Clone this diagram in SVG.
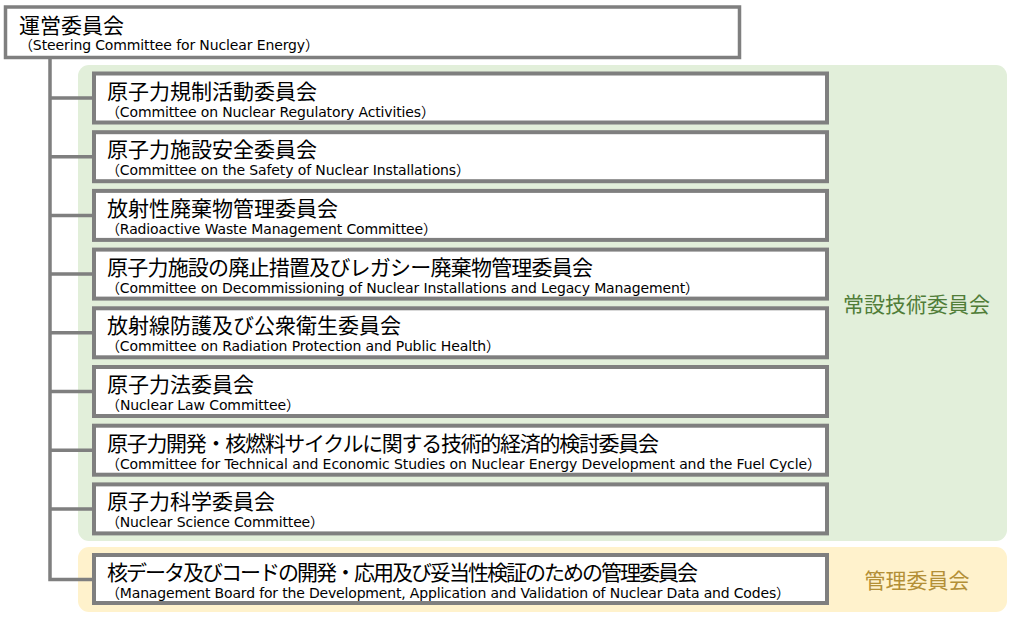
<svg xmlns="http://www.w3.org/2000/svg" width="1014" height="619" viewBox="0 0 1014 619">
<style>
.box{fill:#ffffff;stroke:#7f7f7f;stroke-width:4}
.top{fill:#ffffff;stroke:#7f7f7f;stroke-width:3.5}
.conn{fill:none;stroke:#7f7f7f;stroke-width:3.5}
.jp{font-family:"Noto Sans CJK JP","Noto Sans",sans-serif;font-size:21px;fill:#000000}
.en{font-family:"DejaVu Sans","Noto Sans CJK JP",sans-serif;font-size:14px;fill:#000000}
.lbl{font-family:"Noto Sans CJK JP",sans-serif;font-size:21px;text-anchor:middle}
</style>
<rect width="1014" height="619" fill="#ffffff"/>
<g id="group-standing">
<rect x="78" y="65" width="929" height="476" rx="11" fill="#e2efda"/>
<text class="lbl" x="916.5" y="312" fill="#507d38">常設技術委員会</text>
</g>
<g id="group-management">
<rect x="78" y="547" width="929" height="65" rx="11" fill="#fff2cc"/>
<text class="lbl" x="917" y="587.5" fill="#b38f36">管理委員会</text>
</g>
<g id="connectors">
<path class="conn" d="M50 57V579.5H94"/>
<path class="conn" d="M50 98H94M50 156.7H94M50 215.4H94M50 274.1H94M50 332.8H94M50 391.5H94M50 450.2H94M50 508.9H94"/>
</g>
<g id="steering">
<rect class="top" x="5.5" y="7" width="734" height="50.5"/>
<text class="jp" x="19" y="33">運営委員会</text>
<text class="en" x="19" y="50" textLength="300" lengthAdjust="spacing">（Steering Committee for Nuclear Energy）</text>
</g>
<g id="node1">
<rect class="box" x="94" y="73.5" width="733" height="49"/>
<text class="jp" x="107" y="98.5">原子力規制活動委員会</text>
<text class="en" x="106" y="116.5" textLength="329" lengthAdjust="spacing">（Committee on Nuclear Regulatory Activities）</text>
</g>
<g id="node2">
<rect class="box" x="94" y="132.2" width="733" height="49"/>
<text class="jp" x="107" y="157.2">原子力施設安全委員会</text>
<text class="en" x="106" y="175.2" textLength="364" lengthAdjust="spacing">（Committee on the Safety of Nuclear Installations）</text>
</g>
<g id="node3">
<rect class="box" x="94" y="190.9" width="733" height="49"/>
<text class="jp" x="107" y="215.9">放射性廃棄物管理委員会</text>
<text class="en" x="106" y="233.9" textLength="331" lengthAdjust="spacing">（Radioactive Waste Management Committee）</text>
</g>
<g id="node4">
<rect class="box" x="94" y="249.6" width="733" height="49"/>
<text class="jp" x="107" y="274.6" textLength="486" lengthAdjust="spacing">原子力施設の廃止措置及びレガシー廃棄物管理委員会</text>
<text class="en" x="106" y="292.6" textLength="593" lengthAdjust="spacing">（Committee on Decommissioning of Nuclear Installations and Legacy Management）</text>
</g>
<g id="node5">
<rect class="box" x="94" y="308.3" width="733" height="49"/>
<text class="jp" x="107" y="333.3">放射線防護及び公衆衛生委員会</text>
<text class="en" x="106" y="351.3" textLength="394" lengthAdjust="spacing">（Committee on Radiation Protection and Public Health）</text>
</g>
<g id="node6">
<rect class="box" x="94" y="367" width="733" height="49"/>
<text class="jp" x="107" y="392">原子力法委員会</text>
<text class="en" x="106" y="410" textLength="194" lengthAdjust="spacing">（Nuclear Law Committee）</text>
</g>
<g id="node7">
<rect class="box" x="94" y="425.7" width="733" height="49"/>
<text class="jp" x="107" y="450.7" textLength="552" lengthAdjust="spacing">原子力開発・核燃料サイクルに関する技術的経済的検討委員会</text>
<text class="en" x="106" y="468.7" textLength="715" lengthAdjust="spacing">（Committee for Technical and Economic Studies on Nuclear Energy Development and the Fuel Cycle）</text>
</g>
<g id="node8">
<rect class="box" x="94" y="484.4" width="733" height="49"/>
<text class="jp" x="107" y="509.4">原子力科学委員会</text>
<text class="en" x="106" y="527.4" textLength="218" lengthAdjust="spacing">（Nuclear Science Committee）</text>
</g>
<g id="node9">
<rect class="box" x="94" y="555" width="733" height="48"/>
<text class="jp" x="107" y="580" textLength="591" lengthAdjust="spacing">核データ及びコードの開発・応用及び妥当性検証のための管理委員会</text>
<text class="en" x="106" y="598" textLength="684" lengthAdjust="spacing">（Management Board for the Development, Application and Validation of Nuclear Data and Codes）</text>
</g>
</svg>
